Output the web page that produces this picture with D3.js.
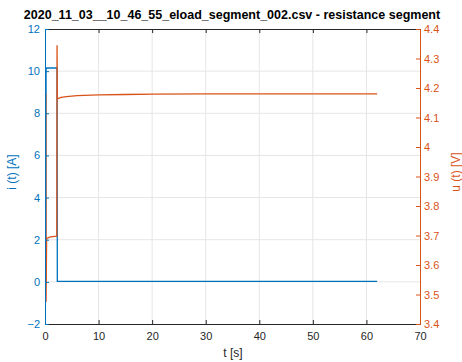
<!DOCTYPE html>
<html><head><meta charset="utf-8">
<script src="https://cdn.jsdelivr.net/npm/d3@7"></script>
<style>body{margin:0;background:#fff}svg{display:block}text{font-family:"Liberation Sans",Arial,sans-serif}</style>
</head><body><svg id="c" width="462" height="362"></svg>
<script>
const title = "2020_11_03__10_46_55_eload_segment_002.csv - resistance segment";
const xTicks = [0,10,20,30,40,50,60,70];
const iTicks = [-2,0,2,4,6,8,10,12];
const uTicks = [3.4,3.5,3.6,3.7,3.8,3.9,4,4.1,4.2,4.3,4.4];
// current i(t) [A]
const iTime = [0, 0.15, 0.2, 1.0, 2.0, 2.25, 2.3, 5, 10, 20, 30, 40, 50, 62];
const iVals = [0.0, 0.0, 10.15, 10.15, 10.15, 10.15, 0.02, 0.02, 0.02, 0.02, 0.02, 0.02, 0.02, 0.02];
// voltage u(t) [V]
const uTime = [0, 0.15, 0.2, 0.3, 1.0, 2.2, 2.25, 2.3, 3, 4, 6, 10, 15, 20, 30, 40, 50, 62];
const uVals = [4.178, 4.178, 3.475, 3.69, 3.695, 3.698, 4.345, 4.163, 4.168, 4.171, 4.174, 4.177, 4.178, 4.179, 4.18, 4.18, 4.18, 4.18];

const svg = d3.select("#c");
const L = 45, R = 420, T = 29, B = 324;
const x = d3.scaleLinear().domain([0,70]).range([L,R]);
const yI = d3.scaleLinear().domain([-2,12]).range([B,T]);
const yU = d3.scaleLinear().domain([3.4,4.4]).range([B,T]);
const blue = "#0072BD", orange = "#D95319", dark = "#262626";

// grid
const g = svg.append("g");
g.selectAll("line.gx").data(xTicks.slice(1,-1)).join("line")
  .attr("x1",d=>x(d)).attr("x2",d=>x(d)).attr("y1",T).attr("y2",B)
  .attr("stroke","#e6e6e6").attr("stroke-width",1);
g.selectAll("line.gy").data(iTicks.slice(1,-1)).join("line")
  .attr("y1",d=>yI(d)).attr("y2",d=>yI(d)).attr("x1",L).attr("x2",R)
  .attr("stroke","#e6e6e6").attr("stroke-width",1);

// lines
const lineI = d3.line().x((d,k)=>x(iTime[k])).y(d=>yI(d));
const lineU = d3.line().x((d,k)=>x(uTime[k])).y(d=>yU(d));
svg.append("path").attr("d",lineI(iVals)).attr("fill","none").attr("stroke",blue).attr("stroke-width",1.3);
svg.append("path").attr("d",lineU(uVals)).attr("fill","none").attr("stroke",orange).attr("stroke-width",1.3);

// axes
const fs = 11;
const xb = svg.append("g").attr("transform",`translate(0,${B})`)
  .call(d3.axisBottom(x).tickValues(xTicks).tickSize(-4).tickPadding(8).tickFormat(d3.format("d")));
xb.select(".domain").attr("stroke",dark);
xb.selectAll(".tick line").attr("stroke",dark);
xb.selectAll("text").attr("fill",dark).attr("font-size",fs);
const xt = svg.append("g").attr("transform",`translate(0,${T})`)
  .call(d3.axisTop(x).tickValues(xTicks).tickSize(-4).tickFormat(""));
xt.select(".domain").attr("stroke",dark);
xt.selectAll(".tick line").attr("stroke",dark);

const yl = svg.append("g").attr("transform",`translate(${L},0)`)
  .call(d3.axisLeft(yI).tickValues(iTicks).tickSize(-4).tickPadding(5).tickFormat(d3.format("d")));
yl.select(".domain").attr("stroke",blue);
yl.selectAll(".tick line").attr("stroke",blue);
yl.selectAll("text").attr("fill",blue).attr("font-size",fs);

const yr = svg.append("g").attr("transform",`translate(${R},0)`)
  .call(d3.axisRight(yU).tickValues(uTicks).tickSize(-4).tickPadding(4).tickFormat(d=>d3.format("")(+d.toFixed(1))));
yr.select(".domain").attr("stroke",orange);
yr.selectAll(".tick line").attr("stroke",orange);
yr.selectAll("text").attr("fill",orange).attr("font-size",fs);
svg.selectAll(".domain").attr("stroke-width",1);

// labels
svg.append("text").attr("x",232).attr("y",19).attr("text-anchor","middle")
  .attr("font-size",12.5).attr("font-weight","bold").attr("fill","#000").text(title);
svg.append("text").attr("x",233).attr("y",357).attr("text-anchor","middle")
  .attr("font-size",12).attr("fill",dark).text("t [s]");
svg.append("text").attr("transform","translate(16,172) rotate(-90)").attr("text-anchor","middle")
  .attr("font-size",12).attr("fill",blue).text("i (t) [A]");
svg.append("text").attr("transform","translate(460,172) rotate(-90)").attr("text-anchor","middle")
  .attr("font-size",12).attr("fill",orange).text("u (t) [V]");
</script></body></html>
